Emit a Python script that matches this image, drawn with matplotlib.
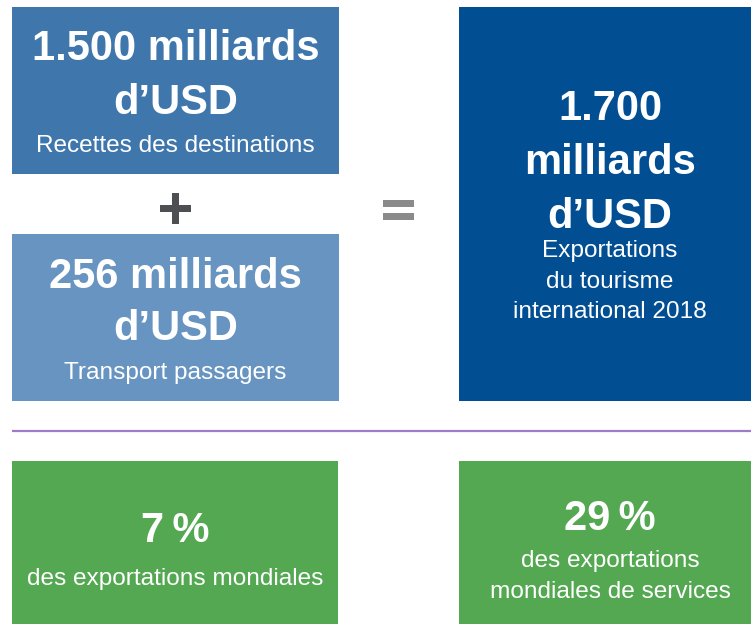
import matplotlib
matplotlib.use("Agg")
import matplotlib.pyplot as plt
from matplotlib.patches import Rectangle

plt.rcParams["font.family"] = ["Liberation Sans", "DejaVu Sans"]

# figures shown in the boxes
receipts_value = "1.500 milliards"
receipts_label = "Recettes des destinations"
transport_value = "256 milliards"
transport_label = "Transport passagers"
total_value = ["1.700", "milliards", "d\u2019USD"]
total_label = ["Exportations", "du tourisme", "international 2018"]
share_values = ["7\u2009%", "29\u2009%"]
share_labels = [["des exportations mondiales"],
                ["des exportations", "mondiales de services"]]

W, H = 751, 624
fig = plt.figure(figsize=(W / 100, H / 100), dpi=100)
ax = fig.add_axes([0, 0, 1, 1])
ax.set_xlim(0, W)
ax.set_ylim(H, 0)
ax.axis("off")

BIG = 30
SMALL = 17.6


def box(x0, y0, x1, y1, color):
    ax.add_patch(Rectangle((x0, y0), x1 - x0, y1 - y0, color=color, lw=0))


def txt(x, y, s, size, bold=False, color="white"):
    ax.text(x, y, s, ha="center", va="center_baseline", fontsize=size,
            fontweight="bold" if bold else "normal", color=color)


# top-left: receipts
box(12, 7, 339, 174, "#3f77ad")
txt(175.5, 45, receipts_value, BIG, bold=True)
txt(175.5, 98, "d\u2019USD", BIG, bold=True)
txt(175.5, 143, receipts_label, SMALL)

# plus sign
ax.add_patch(Rectangle((160, 205), 31, 7, color="#4d4f53", lw=0))
ax.add_patch(Rectangle((172, 193), 7, 31, color="#4d4f53", lw=0))

# bottom-left: passenger transport
box(12, 234, 339, 401, "#6794c0")
txt(175.5, 272, transport_value, BIG, bold=True)
txt(175.5, 325, "d\u2019USD", BIG, bold=True)
txt(175.5, 370, transport_label, SMALL)

# equals sign
ax.add_patch(Rectangle((383, 200), 31, 7, color="#8a8a8a", lw=0))
ax.add_patch(Rectangle((383, 213), 31, 7, color="#8a8a8a", lw=0))

# right: total exports
box(459, 7, 751, 401, "#024e93")
for y, s in zip([105, 158, 212], total_value):
    txt(610, y, s, BIG, bold=True)
for y, s in zip([248, 279, 310], total_label):
    txt(610, y, s, SMALL)

# separator
ax.plot([12, 751], [431, 431], color="#a07cc8", lw=1.6, solid_capstyle="butt")

# bottom: shares
green = "#53a851"
box(12, 461, 338, 624, green)
box(459, 461, 751, 624, green)
txt(175, 527, share_values[0], BIG, bold=True)
txt(175, 577, share_labels[0][0], SMALL)
txt(610, 515, share_values[1], BIG, bold=True)
txt(610, 559, share_labels[1][0], SMALL)
txt(610, 589, share_labels[1][1], SMALL)

fig.savefig("out.png", dpi=100)
